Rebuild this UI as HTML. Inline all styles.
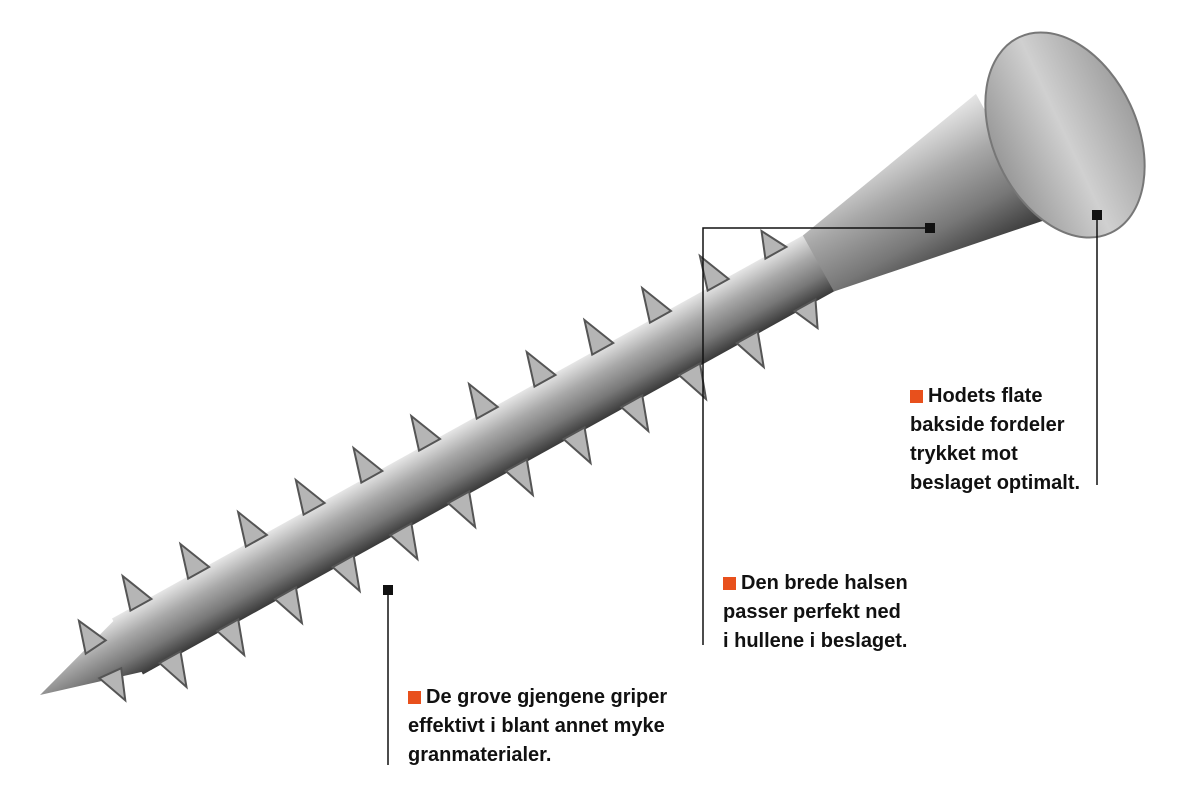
<!DOCTYPE html>
<html><head><meta charset="utf-8"><style>
html,body{margin:0;padding:0;background:#fff;}
body{width:1200px;height:801px;position:relative;overflow:hidden;}
.t{position:absolute;font-family:"Liberation Sans Narrow","Liberation Sans",sans-serif;font-weight:bold;font-size:20px;line-height:29px;color:#111;white-space:nowrap;}
.sq{display:inline-block;width:13px;height:13px;background:#e8501c;margin-right:5px;vertical-align:-1px;}
</style></head><body>
<svg width="1200" height="801" style="position:absolute;left:0;top:0">
<defs>
<linearGradient id="sh" x1="0" y1="0" x2="0" y2="1">
<stop offset="0" stop-color="#e6e6e6"/><stop offset="0.35" stop-color="#a8a8a8"/><stop offset="0.7" stop-color="#777"/><stop offset="1" stop-color="#3a3a3a"/></linearGradient>
<linearGradient id="hd" x1="0" y1="0" x2="1" y2="0">
<stop offset="0" stop-color="#999"/><stop offset="0.5" stop-color="#d0d0d0"/><stop offset="1" stop-color="#a0a0a0"/></linearGradient>
</defs>
<g transform="translate(40,695) rotate(-29)">
<polygon points="0,0 110,-32 110,32" fill="url(#sh)"/>
<rect x="100" y="-32" width="800" height="64" fill="url(#sh)"/>
<g fill="#b5b5b5" stroke="#555" stroke-width="2">
<polygon points="60,-14 70,-46 84,-16"/><polygon points="60,14 72,46 84,16"/>
<polygon points="120,-30 130,-64 144,-30"/><polygon points="120,30 132,64 144,30"/>
<polygon points="186,-30 196,-64 210,-30"/><polygon points="186,30 198,64 210,30"/>
<polygon points="252,-30 262,-64 276,-30"/><polygon points="252,30 264,64 276,30"/>
<polygon points="318,-30 328,-64 342,-30"/><polygon points="318,30 330,64 342,30"/>
<polygon points="384,-30 394,-64 408,-30"/><polygon points="384,30 396,64 408,30"/>
<polygon points="450,-30 460,-64 474,-30"/><polygon points="450,30 462,64 474,30"/>
<polygon points="516,-30 526,-64 540,-30"/><polygon points="516,30 528,64 540,30"/>
<polygon points="582,-30 592,-64 606,-30"/><polygon points="582,30 594,64 606,30"/>
<polygon points="648,-30 658,-64 672,-30"/><polygon points="648,30 660,64 672,30"/>
<polygon points="714,-30 724,-64 738,-30"/><polygon points="714,30 726,64 738,30"/>
<polygon points="780,-30 790,-64 804,-30"/><polygon points="780,30 792,64 804,30"/>
<polygon points="846,-30 856,-56 870,-30"/><polygon points="846,30 858,56 870,30"/>
</g>
<polygon points="890,-32 1110,-72 1110,72 890,32" fill="url(#sh)"/>
</g>
<ellipse cx="1065" cy="135" rx="72" ry="108" transform="rotate(-25 1065 135)" fill="url(#hd)" stroke="#777" stroke-width="2"/>
<g stroke="#111" stroke-width="1.5" fill="none">
<polyline points="388,590 388,765"/>
<polyline points="930,228 703,228 703,645"/>
<polyline points="1097,215 1097,485"/>
</g>
<rect x="383" y="585" width="10" height="10" fill="#111"/>
<rect x="925" y="223" width="10" height="10" fill="#111"/>
<rect x="1092" y="210" width="10" height="10" fill="#111"/>
</svg>
<div class="t" style="left:408px;top:683px"><span class="sq"></span>De grove gjengene griper<br>effektivt i blant annet myke<br>granmaterialer.</div>
<div class="t" style="left:723px;top:569px"><span class="sq"></span>Den brede halsen<br>passer perfekt ned<br>i hullene i beslaget.</div>
<div class="t" style="left:910px;top:382px"><span class="sq"></span>Hodets flate<br>bakside fordeler<br>trykket mot<br>beslaget optimalt.</div>
</body></html>
